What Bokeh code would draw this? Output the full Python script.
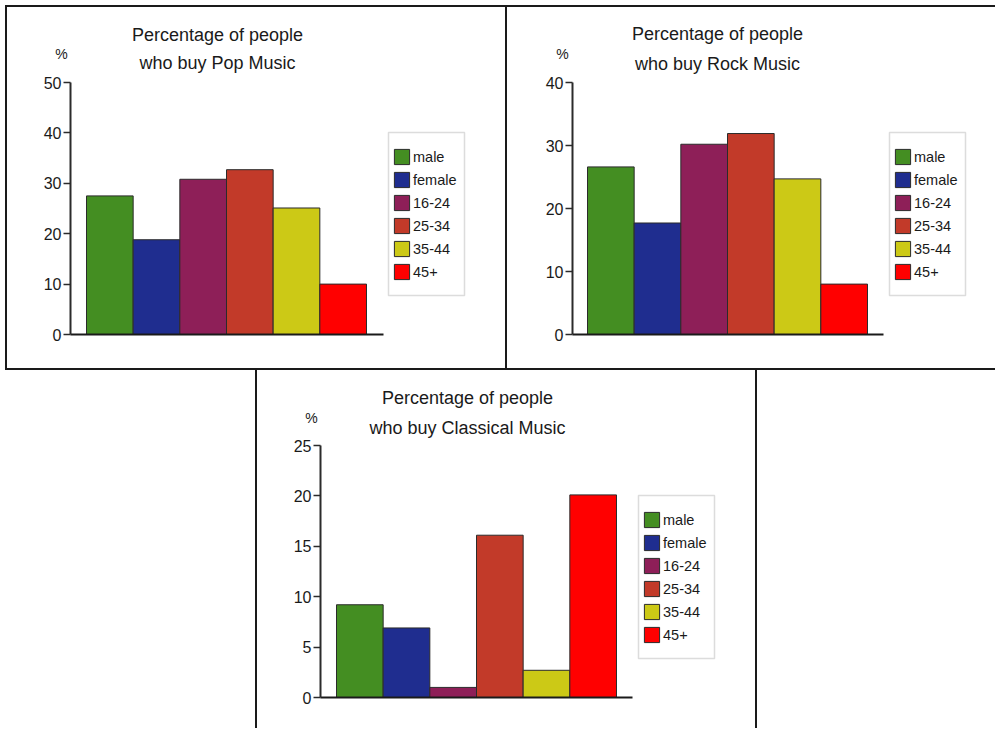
from bokeh.plotting import figure
from bokeh.models import (Range1d, FixedTicker, Label, Legend, LegendItem,
                          ColumnDataSource, Spacer, BoxAnnotation)
from bokeh.layouts import row, column
from bokeh.embed import file_html
from bokeh.resources import INLINE

# ---------------- data ----------------
categories = ["male", "female", "16-24", "25-34", "35-44", "45+"]
colors = ["#448E22", "#1F2D8F", "#8E1F58", "#C23A29", "#CCC916", "#FF0000"]

pop_values = [27.5, 18.8, 30.8, 32.7, 25.1, 10.0]
rock_values = [26.6, 17.7, 30.2, 31.9, 24.7, 8.0]
classical_values = [9.2, 6.9, 1.0, 16.1, 2.7, 20.1]

pop_ticks = [0, 10, 20, 30, 40, 50]
rock_ticks = [0, 10, 20, 30, 40]
classical_ticks = [0, 5, 10, 15, 20, 25]

title_line1 = "Percentage of people"
subtitles = ["who buy Pop Music", "who buy Rock Music", "who buy Classical Music"]
unit_label = "%"

# ---------------- style ----------------
FONT = "Liberation Sans"
TEXT = "#1a1a1a"
BAR_PX = 280 / 6.0     # pixel width of one bar
PAD, SPACING, GLYPH = 7, 4, 19


def make_panel(values, ticks, subtitle, cw, ch, cl, ct, bx, by, g, border_css):
    """cw/ch: content size, cl/ct: content left/top on page,
    bx/by: extra canvas size caused by css borders, g: layout targets (px)."""
    ymax = ticks[-1]
    mb_left = g["axis_x"] - cl
    mb_bottom = ct + ch + by - g["zero"]
    mb_top = 3
    mb_right = 10
    frame_top = ct + mb_top
    frame_right = cl + cw + bx - mb_right
    ppu = (g["zero"] - g["top_tick"]) / ymax
    y_end = ymax + (g["top_tick"] - frame_top) / ppu
    x_start = -0.5 - (g["bar_start"] - g["axis_x"]) / BAR_PX
    x_end = x_start + (frame_right - g["axis_x"]) / BAR_PX

    def xd(px):
        return x_start + (px - g["axis_x"]) / BAR_PX

    def yd(py):
        return (g["zero"] - py) / ppu

    n = len(values)
    p = figure(width=cw, height=ch,
               x_range=Range1d(x_start, x_end),
               y_range=Range1d(0, y_end),
               output_backend="svg", toolbar_location=None,
               min_border_left=mb_left, min_border_right=mb_right,
               min_border_top=mb_top, min_border_bottom=mb_bottom)
    css = {"box-sizing": "content-box"}
    css.update(border_css)
    p.styles = css
    p.xgrid.visible = False
    p.ygrid.visible = False
    p.outline_line_color = None
    p.background_fill_color = "white"
    p.border_fill_color = "white"

    src = ColumnDataSource(dict(x=list(range(n)), top=values,
                                color=colors, cat=categories))
    r = p.vbar(x="x", top="top", width=1.0, bottom=0, source=src,
               fill_color="color", line_color="#2b2b2b", line_width=1)

    # y axis
    ya = p.yaxis[0]
    ya.ticker = FixedTicker(ticks=ticks)
    ya.bounds = (0, ymax)
    ya.axis_line_width = 2
    ya.axis_line_color = "#2b2b2b"
    ya.major_tick_line_width = 1.5
    ya.major_tick_line_color = "#2b2b2b"
    ya.major_tick_out = 7
    ya.major_tick_in = 0
    ya.minor_tick_line_color = None
    ya.major_label_standoff = 2
    ya.major_label_text_font = FONT
    ya.major_label_text_font_size = "16px"
    ya.major_label_text_color = TEXT

    # x axis (baseline only)
    xa = p.xaxis[0]
    xa.ticker = FixedTicker(ticks=[])
    xa.major_label_text_font_size = "0px"
    xa.major_tick_line_color = None
    xa.minor_tick_line_color = None
    xa.axis_line_width = 2
    xa.axis_line_color = "#1a1a1a"
    xa.bounds = (x_start, xd(g["axis_end"]))

    # titles
    for txt, yy in ((title_line1, g["y1"]), (subtitle, g["y2"])):
        p.add_layout(Label(x=xd(g["title_cx"]), y=yd(yy),
                           text=txt, text_align="center",
                           text_baseline="middle", text_font=FONT,
                           text_font_size="18px", text_color=TEXT))
    # unit label sits left of the frame -> left panel (no clipping)
    p.add_layout(Label(x=xd(g["pct"][0]), y=yd(g["pct"][1]),
                       text=unit_label, text_align="center",
                       text_baseline="middle", text_font=FONT,
                       text_font_size="14px", text_color=TEXT), "left")

    # legend frame
    bl, bt, br, bb = g["leg_box"]
    p.add_layout(BoxAnnotation(left=xd(bl), right=xd(br), top=yd(bt),
                               bottom=yd(bb), fill_color="white",
                               fill_alpha=1.0, line_color="#8a8a8a",
                               line_width=1.5))

    items = [LegendItem(label=c, renderers=[r], index=i)
             for i, c in enumerate(categories)]
    leg_h = 2 * PAD + 6 * GLYPH + 5 * SPACING
    leg_top = g["row1"] - GLYPH / 2 - PAD
    leg_left = bl + 7 - 2 - PAD + 6
    leg = Legend(items=items,
                 location=(leg_left - g["axis_x"],
                           round(g["zero"] - (leg_top + leg_h)) + 5),
                 padding=PAD, spacing=SPACING, margin=0,
                 glyph_width=GLYPH, glyph_height=GLYPH, label_height=GLYPH,
                 label_standoff=2, label_text_font=FONT,
                 label_text_font_size="14.5px", label_text_color=TEXT,
                 border_line_color=None, background_fill_alpha=0.0)
    p.add_layout(leg)
    return p


B = "2px solid #1a1a1a"
g1 = dict(axis_x=70, top_tick=82, zero=334, bar_start=86, axis_end=383,
          leg_box=(388, 132, 464, 295), row1=155, title_cx=217, y1=34, y2=62,
          pct=(61, 53))
g2 = dict(axis_x=572, top_tick=82, zero=334, bar_start=587, axis_end=883,
          leg_box=(889, 132, 965, 295), row1=155, title_cx=717, y1=33, y2=63,
          pct=(562, 53))
g3 = dict(axis_x=320, top_tick=445, zero=697, bar_start=336, axis_end=632,
          leg_box=(638, 495, 714, 658), row1=518, title_cx=467, y1=397, y2=427,
          pct=(311, 417))

p1 = make_panel(pop_values, pop_ticks, subtitles[0], 498, 361, 7, 7, 4, 4, g1,
                {"border": B})
p2 = make_panel(rock_values, rock_ticks, subtitles[1], 488, 361, 507, 7, 0, 4,
                g2, {"border-top": B, "border-bottom": B})
p3 = make_panel(classical_values, classical_ticks, subtitles[2], 498, 358,
                257, 370, 4, 0, g3, {"border-left": B, "border-right": B})

layout = column(Spacer(width=10, height=5),
                row(Spacer(width=5, height=10), p1, p2),
                row(Spacer(width=255, height=10), p3))

open("out.html", "w").write(file_html(layout, INLINE))
